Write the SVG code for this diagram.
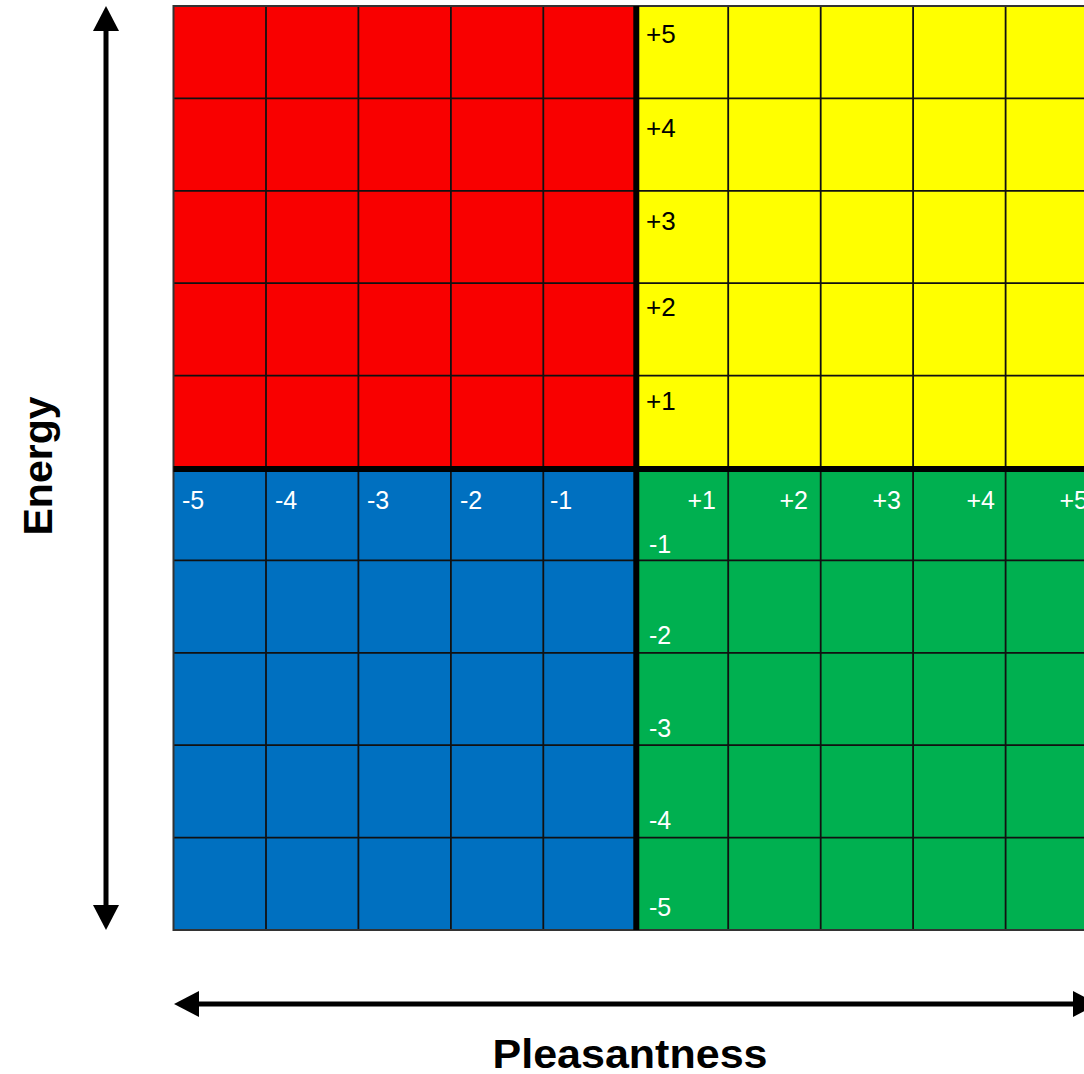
<svg xmlns="http://www.w3.org/2000/svg" width="1084" height="1074" viewBox="0 0 1084 1074">
<style>
.red{fill:#F90000}.yel{fill:#FFFF00}.blu{fill:#0070C0}.grn{fill:#00B050}
.lbl{font-family:"Liberation Sans",Arial,sans-serif;font-size:25px}
.lw{fill:#fff}.lb{fill:#000}
.axis{stroke:#000;stroke-width:5;fill:none}
.title{font-family:"Liberation Sans",Arial,sans-serif;font-weight:bold;fill:#000}
</style>
<defs>
<marker id="ah" markerUnits="userSpaceOnUse" markerWidth="26" markerHeight="26" refX="1" refY="13" orient="auto-start-reverse" viewBox="0 0 26 26">
<path d="M0,0 L25,13 L0,26 Z" fill="#000"/>
</marker>
</defs>
<rect width="1084" height="1074" fill="#fff"/>

<g id="quadrant-red">
<rect class="red" x="173.5" y="6" width="462.3" height="462"/>
</g>
<g id="quadrant-yellow">
<rect class="yel" x="635.8" y="6" width="462.3" height="462"/>
</g>
<g id="quadrant-blue">
<rect class="blu" x="173.5" y="468" width="462.3" height="462"/>
</g>
<g id="quadrant-green">
<rect class="grn" x="635.8" y="468" width="462.3" height="462"/>
</g>

<g id="grid" stroke="#111" stroke-width="1.8" fill="none">
<line x1="266" y1="6" x2="266" y2="930"/>
<line x1="358.4" y1="6" x2="358.4" y2="930"/>
<line x1="450.9" y1="6" x2="450.9" y2="930"/>
<line x1="543.3" y1="6" x2="543.3" y2="930"/>
<line x1="728.2" y1="6" x2="728.2" y2="930"/>
<line x1="820.7" y1="6" x2="820.7" y2="930"/>
<line x1="913.1" y1="6" x2="913.1" y2="930"/>
<line x1="1005.6" y1="6" x2="1005.6" y2="930"/>
<line x1="173.5" y1="98.4" x2="1100" y2="98.4"/>
<line x1="173.5" y1="190.8" x2="1100" y2="190.8"/>
<line x1="173.5" y1="283.2" x2="1100" y2="283.2"/>
<line x1="173.5" y1="375.6" x2="1100" y2="375.6"/>
<line x1="173.5" y1="560.4" x2="1100" y2="560.4"/>
<line x1="173.5" y1="652.8" x2="1100" y2="652.8"/>
<line x1="173.5" y1="745.2" x2="1100" y2="745.2"/>
<line x1="173.5" y1="837.6" x2="1100" y2="837.6"/>
<rect x="173.5" y="6" width="930" height="924" stroke="#333" stroke-width="2"/>
<line x1="636.3" y1="6" x2="636.3" y2="930" stroke="#000" stroke-width="6"/>
<line x1="173.5" y1="469" x2="1100" y2="469" stroke="#000" stroke-width="6"/>
</g>

<g id="labels-yellow" class="lbl lb">
<text x="646" y="43" style="font-size:26px">+5</text>
<text x="646" y="137" style="font-size:26px">+4</text>
<text x="646" y="230" style="font-size:26px">+3</text>
<text x="646" y="316" style="font-size:26px">+2</text>
<text x="646" y="410" style="font-size:26px">+1</text>
</g>
<g id="labels-blue" class="lbl lw">
<text x="182" y="509">-5</text>
<text x="275" y="509">-4</text>
<text x="367" y="509">-3</text>
<text x="460" y="509">-2</text>
<text x="550" y="509">-1</text>
</g>
<g id="labels-green-top" class="lbl lw" text-anchor="end">
<text x="716" y="509">+1</text>
<text x="808" y="509">+2</text>
<text x="901" y="509">+3</text>
<text x="995" y="509">+4</text>
<text x="1088" y="509">+5</text>
</g>
<g id="labels-green-left" class="lbl lw">
<text x="649" y="553">-1</text>
<text x="649" y="644">-2</text>
<text x="649" y="737">-3</text>
<text x="649" y="829">-4</text>
<text x="649" y="916">-5</text>
</g>

<g id="connectors">
<line class="axis" x1="106" y1="30" x2="106" y2="906" marker-start="url(#ah)" marker-end="url(#ah)"/>
<line class="axis" x1="198" y1="1004" x2="1074" y2="1004" marker-start="url(#ah)" marker-end="url(#ah)"/>
</g>

<g id="axis-labels">
<text class="title" x="0" y="0" font-size="41" text-anchor="middle" transform="translate(52,466) rotate(-90)">Energy</text>
<text class="title" x="630" y="1068" font-size="40" text-anchor="middle" textLength="275" lengthAdjust="spacingAndGlyphs">Pleasantness</text>
</g>
</svg>
